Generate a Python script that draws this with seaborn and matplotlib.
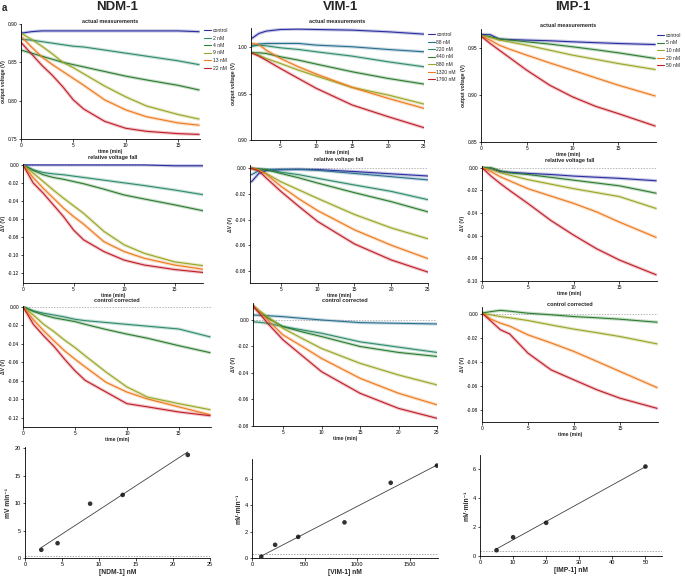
import numpy as np
import pandas as pd
import seaborn as sns
import matplotlib
matplotlib.use("Agg")
import matplotlib.pyplot as plt
from matplotlib.lines import Line2D
from matplotlib.ticker import FormatStrFormatter

# colores
c_ctrl = "#2b2f9e"
c_88 = "#2b6f8f"
c_teal = "#2f8c6c"
c_green = "#2d7d32"
c_olive = "#9ba626"
c_orange = "#ee7a1c"
c_red = "#c01f2a"

## Datos

# NDM-1
ndm_labels = ["control", "2 nM", "4 nM", "9 nM", "13 nM", "22 nM"]
ndm_colors = [c_ctrl, c_teal, c_green, c_olive, c_orange, c_red]
ndm_t_act = [0, 1, 2, 3, 4, 5, 6, 8, 10, 12, 15, 17]
ndm_act = [
    [0.888, 0.890, 0.891, 0.891, 0.891, 0.891, 0.891, 0.891, 0.891, 0.891, 0.891, 0.890],
    [0.880, 0.879, 0.877, 0.875, 0.873, 0.871, 0.870, 0.866, 0.862, 0.858, 0.852, 0.847],
    [0.866, 0.862, 0.858, 0.854, 0.850, 0.847, 0.844, 0.838, 0.832, 0.827, 0.820, 0.814],
    [0.888, 0.880, 0.871, 0.861, 0.850, 0.843, 0.835, 0.819, 0.805, 0.793, 0.782, 0.776],
    [0.884, 0.870, 0.857, 0.847, 0.838, 0.829, 0.820, 0.801, 0.788, 0.779, 0.771, 0.768],
    [0.876, 0.861, 0.846, 0.833, 0.818, 0.801, 0.789, 0.773, 0.764, 0.760, 0.757, 0.756],
]
ndm_t_rel = [0, 1, 2, 3, 4, 5, 6, 8, 10, 12, 15, 18]
ndm_rel = [
    [0, 0, 0, 0, 0, 0, 0, 0, 0, 0, -0.001, -0.001],
    [0, -0.0055, -0.0085, -0.010, -0.011, -0.0125, -0.014, -0.017, -0.020, -0.023, -0.028, -0.0335],
    [0, -0.006, -0.011, -0.014, -0.016, -0.0185, -0.021, -0.027, -0.0335, -0.038, -0.0445, -0.0515],
    [0, -0.009, -0.0185, -0.028, -0.037, -0.0455, -0.054, -0.074, -0.089, -0.0985, -0.108, -0.1125],
    [0, -0.014, -0.026, -0.037, -0.048, -0.0575, -0.066, -0.0855, -0.0965, -0.104, -0.1115, -0.1165],
    [0, -0.020, -0.0315, -0.0445, -0.0575, -0.0725, -0.0835, -0.0965, -0.106, -0.1115, -0.1165, -0.120],
]
ndm_cor = [
    [0, -0.0045, -0.007, -0.009, -0.011, -0.0135, -0.015, -0.017, -0.019, -0.021, -0.024, -0.0325],
    [0, -0.005, -0.009, -0.012, -0.014, -0.016, -0.019, -0.0245, -0.0295, -0.034, -0.042, -0.0495],
    [0, -0.009, -0.019, -0.027, -0.036, -0.044, -0.053, -0.0705, -0.0865, -0.0975, -0.1045, -0.111],
    [0, -0.014, -0.026, -0.037, -0.0475, -0.0565, -0.065, -0.0815, -0.092, -0.0995, -0.108, -0.1165],
    [0, -0.019, -0.0315, -0.043, -0.0565, -0.069, -0.0795, -0.092, -0.1045, -0.108, -0.1135, -0.1175],
]

# VIM-1
vim_labels = ["control", "88 nM", "220 nM", "440 nM", "880 nM", "1320 nM", "1760 nM"]
vim_colors = [c_ctrl, c_88, c_teal, c_green, c_olive, c_orange, c_red]
vim_t = [1, 2, 3, 5, 7.5, 10, 15, 20, 25]
vim_act = [
    [1.0097, 1.0151, 1.0176, 1.0194, 1.0198, 1.0194, 1.0187, 1.0169, 1.0144],
    [1.0018, 1.0036, 1.0043, 1.0043, 1.0043, 1.0025, 1.0007, 0.9978, 0.9953],
    [1.0014, 1.0025, 1.0018, 0.9996, 0.9978, 0.9953, 0.9906, 0.9845, 0.9791],
    [0.9942, 0.9942, 0.9935, 0.9899, 0.9863, 0.9820, 0.9737, 0.9665, 0.9604],
    [0.9942, 0.9917, 0.9881, 0.9827, 0.9755, 0.9691, 0.9568, 0.9486, 0.9388],
    [1.0043, 1.0032, 0.9971, 0.9881, 0.9791, 0.9712, 0.9568, 0.9450, 0.9342],
    [0.9942, 0.9906, 0.9863, 0.9773, 0.9665, 0.9558, 0.9378, 0.9252, 0.9133],
]
vim_rel = [
    [-0.0105, -0.004, -0.0018, -0.001, -0.0008, -0.001, -0.0025, -0.0043, -0.006],
    [-0.005, -0.0018, -0.001, -0.0008, -0.0008, -0.0015, -0.004, -0.0065, -0.009],
    [0, -0.0005, -0.001, -0.003, -0.005, -0.0078, -0.013, -0.018, -0.0245],
    [0, -0.0005, -0.001, -0.004, -0.0075, -0.0115, -0.019, -0.026, -0.034],
    [0, -0.002, -0.004, -0.0105, -0.017, -0.0235, -0.036, -0.0465, -0.055],
    [0, -0.001, -0.0045, -0.014, -0.024, -0.033, -0.048, -0.060, -0.0705],
    [0, -0.002, -0.0075, -0.018, -0.030, -0.0415, -0.059, -0.0715, -0.081],
]
vim_cor = [
    [0.0038, 0.0035, 0.0032, 0.0025, 0.0012, 0.0, -0.002, -0.0025, -0.003],
    [-0.0013, -0.0018, -0.0025, -0.005, -0.0075, -0.010, -0.0165, -0.0205, -0.0245],
    [0.011, 0.006, 0.0015, -0.005, -0.009, -0.0125, -0.020, -0.0245, -0.0275],
    [0.0113, 0.0065, 0.0025, -0.0063, -0.014, -0.0215, -0.0327, -0.0415, -0.049],
    [0.0113, 0.0055, 0.0, -0.0113, -0.020, -0.029, -0.044, -0.0553, -0.064],
    [0.0113, 0.0045, -0.0025, -0.015, -0.027, -0.039, -0.0553, -0.0667, -0.0742],
]

# IMP-1
imp_labels = ["control", "5 nM", "10 nM", "20 nM", "50 nM"]
imp_colors = [c_ctrl, c_green, c_olive, c_orange, c_red]
imp_t = [0, 1, 2, 3, 5, 7.5, 10, 12.5, 15, 19]
imp_act = [
    [0.9642, 0.9640, 0.9592, 0.9588, 0.9582, 0.9575, 0.9564, 0.9555, 0.9546, 0.9535],
    [0.9635, 0.9617, 0.9595, 0.9585, 0.9564, 0.9540, 0.9511, 0.9480, 0.9447, 0.9387],
    [0.9635, 0.9610, 0.9582, 0.9565, 0.9528, 0.9475, 0.9422, 0.9378, 0.9333, 0.9270],
    [0.9624, 0.9582, 0.9528, 0.9490, 0.9422, 0.9340, 0.9262, 0.9182, 0.9103, 0.8989],
    [0.9624, 0.9546, 0.9475, 0.9404, 0.9262, 0.9103, 0.8979, 0.8879, 0.8801, 0.8670],
]
imp_rel = [
    [0, -0.001, -0.0035, -0.004, -0.005, -0.006, -0.0074, -0.0084, -0.0094, -0.0115],
    [0, 0, -0.0027, -0.0045, -0.006, -0.0085, -0.011, -0.0135, -0.016, -0.0225],
    [0, -0.0015, -0.0045, -0.0065, -0.0105, -0.0145, -0.0185, -0.022, -0.0255, -0.036],
    [0, -0.0035, -0.008, -0.0115, -0.0185, -0.025, -0.0315, -0.039, -0.048, -0.0615],
    [0, -0.0075, -0.014, -0.020, -0.0315, -0.0465, -0.0595, -0.0715, -0.0815, -0.0945],
]
imp_cor = [
    [0.001, 0.0022, 0.0032, 0.0025, 0.0008, -0.0005, -0.002, -0.003, -0.0042, -0.0067],
    [0.0008, -0.0006, -0.002, -0.003, -0.0053, -0.009, -0.0125, -0.0155, -0.0187, -0.0248],
    [0.001, -0.0042, -0.0075, -0.010, -0.0173, -0.024, -0.0312, -0.0395, -0.0479, -0.0613],
    [0.001, -0.006, -0.013, -0.0165, -0.0326, -0.0465, -0.0549, -0.0632, -0.0702, -0.0786],
]

# Velocidades vs concentracion
ndm_conc = [2.2, 4.4, 8.8, 13.2, 22.0]
ndm_rate = [1.5, 2.7, 9.9, 11.5, 18.8]
vim_conc = [88, 220, 440, 880, 1320, 1760]
vim_rate = [0.1, 1.0, 1.6, 2.7, 5.7, 7.0]
imp_conc = [5, 10, 20, 50]
imp_rate = [0.4, 1.3, 2.3, 6.2]
rate_baseline = [0.3, 0.33, 0.32]

## Estilo
sns.set_theme(style="ticks")
plt.rcParams["font.family"] = ["Liberation Sans", "DejaVu Sans"]
plt.rcParams["axes.unicode_minus"] = False

W, H = 685, 576
fig = plt.figure(figsize=(W / 100, H / 100), dpi=100)


def px_axes(l, t, r, b):
    return fig.add_axes([l / W, 1 - b / H, (r - l) / W, (b - t) / H])


def style_ax(ax, size=3.5):
    sns.despine(ax=ax)
    for s in ["left", "bottom"]:
        ax.spines[s].set_linewidth(0.6)
        ax.spines[s].set_color("black")
    ax.tick_params(labelsize=size, length=1.8, width=0.5, pad=1, colors="black")


def curve_panel(ax, t, labels, colors, values, title, ylabel, pad, legend=None, zero=True):
    df = pd.DataFrame({
        "t": np.tile(t, len(labels)),
        "v": np.concatenate([np.array(v, dtype=float) for v in values]),
        "lab": np.repeat(labels, len(t)),
    })
    pal = dict(zip(labels, colors))
    if zero:
        ax.axhline(0, color="0.6", lw=0.5, ls=(0, (2, 2)), zorder=0)
    sns.lineplot(data=df, x="t", y="v", hue="lab", palette=pal, lw=2.4, alpha=0.25,
                 legend=False, errorbar=None, ax=ax)
    sns.lineplot(data=df, x="t", y="v", hue="lab", palette=pal, lw=0.8,
                 legend=False, errorbar=None, ax=ax)
    ax.set_title(title, fontsize=4.0, fontweight="bold", pad=pad)
    ax.set_xlabel("time (min)", fontsize=3.6, fontweight="bold", labelpad=1)
    ax.set_ylabel(ylabel, fontsize=3.6, fontweight="bold", labelpad=1)
    ax.yaxis.set_major_formatter(FormatStrFormatter("%.2f"))
    style_ax(ax)
    if legend is not None:
        handles = [Line2D([], [], color=c, lw=0.8) for c in colors]
        ax.legend(handles, labels, loc="upper left", bbox_to_anchor=(legend, 1.0),
                  frameon=False, fontsize=3.6, handlelength=1.3, handletextpad=0.4,
                  labelspacing=0.5, borderaxespad=0.5, borderpad=0.3)


# Fila 1: medidas reales
ax = px_axes(21, 24, 200, 139)
curve_panel(ax, ndm_t_act, ndm_labels, ndm_colors, ndm_act, "actual measurements",
            "output voltage (V)", 1, legend=1.0, zero=False)
ax.set_xlim(0, 17.1); ax.set_ylim(0.75, 0.90)
ax.set_xticks([0, 5, 10, 15]); ax.set_yticks([0.75, 0.80, 0.85, 0.90])

ax = px_axes(251, 28, 424, 140)
curve_panel(ax, vim_t, vim_labels, vim_colors, vim_act, "actual measurements",
            "output voltage (V)", 3.6, legend=1.0, zero=False)
ax.set_xlim(0.9, 25); ax.set_ylim(0.90, 1.021)
ax.set_xticks([5, 10, 15, 20, 25]); ax.set_yticks([0.90, 0.95, 1.00])

ax = px_axes(481, 29, 656, 142)
curve_panel(ax, imp_t, imp_labels, imp_colors, imp_act, "actual measurements",
            "output voltage (V)", 1.5, legend=0.985, zero=False)
ax.set_xlim(0, 19.1); ax.set_ylim(0.85, 0.97)
ax.set_xticks([0, 5, 10, 15]); ax.set_yticks([0.85, 0.90, 0.95])

# Fila 2: caida relativa
ax = px_axes(23, 164, 203, 283)
curve_panel(ax, ndm_t_rel, ndm_labels, ndm_colors, ndm_rel, "relative voltage fall", "ΔV (V)", 3.4)
ax.set_xlim(0, 17.8); ax.set_ylim(-0.1315, 0.001)
ax.set_xticks([0, 5, 10, 15]); ax.set_yticks(np.arange(-0.12, 0.001, 0.02))

ax = px_axes(250, 165, 428, 283)
curve_panel(ax, vim_t, vim_labels, vim_colors, vim_rel, "relative voltage fall", "ΔV (V)", 2.7)
ax.set_xlim(0.8, 25); ax.set_ylim(-0.0895, 0.0026)
ax.set_xticks([5, 10, 15, 20, 25]); ax.set_yticks(np.arange(-0.08, 0.001, 0.02))

ax = px_axes(482, 166, 657, 281)
curve_panel(ax, imp_t, imp_labels, imp_colors, imp_rel, "relative voltage fall", "ΔV (V)", 2.9)
ax.set_xlim(0, 19.1); ax.set_ylim(-0.10, 0.0015)
ax.set_xticks([0, 5, 10, 15]); ax.set_yticks(np.arange(-0.10, 0.001, 0.02))

# Fila 3: corregido por control
ax = px_axes(23, 306, 211, 427)
curve_panel(ax, ndm_t_rel, ndm_labels[1:], ndm_colors[1:], ndm_cor, "control corrected", "ΔV (V)", 2.7)
ax.set_xlim(0, 18.1); ax.set_ylim(-0.1297, 0.0008)
ax.set_xticks([0, 5, 10, 15]); ax.set_yticks(np.arange(-0.12, 0.001, 0.02))

ax = px_axes(253, 303, 437, 426)
curve_panel(ax, vim_t, vim_labels[1:], vim_colors[1:], vim_cor, "control corrected", "ΔV (V)", 0.5)
ax.set_xlim(1.1, 25); ax.set_ylim(-0.08, 0.0128)
ax.set_xticks([5, 10, 15, 20, 25]); ax.set_yticks(np.arange(-0.08, 0.001, 0.02))

ax = px_axes(482, 307, 658, 422)
curve_panel(ax, imp_t, imp_labels[1:], imp_colors[1:], imp_cor, "control corrected", "ΔV (V)", 1)
ax.set_xlim(0, 19.1); ax.set_ylim(-0.09, 0.006)
ax.set_xticks([0, 5, 10, 15]); ax.set_yticks(np.arange(-0.08, 0.001, 0.02))

# Fila 4: velocidad vs concentracion
rate_axes = [
    (px_axes(25, 447, 210, 558), ndm_conc, ndm_rate, "[NDM-1] nM", "mV min⁻¹",
     (0, 25), (0, 20.24), [0, 5, 10, 15, 20, 25], [0, 5, 10, 15, 20]),
    (px_axes(252, 459, 438, 558), vim_conc, vim_rate, "[VIM-1] nM", "mV·min⁻¹",
     (0, 1770), (0, 7.5), [0, 500, 1000, 1500], [0, 2, 4, 6]),
    (px_axes(480, 455, 662, 556), imp_conc, imp_rate, "[IMP-1] nM", "mV·min⁻¹",
     (0, 55), (0, 7.0), [0, 10, 20, 30, 40, 50], [0, 2, 4, 6]),
]
for (ax, cx, ry, xl, yl, xlim, ylim, xt, yt), base in zip(rate_axes, rate_baseline):
    ax.axhline(base, color="0.5", lw=0.5, ls=(0, (2, 2)), zorder=0)
    sns.regplot(x=cx, y=ry, ci=None, ax=ax,
                scatter_kws=dict(s=11, color="black", edgecolor="none", zorder=3),
                line_kws=dict(color="0.25", lw=0.6))
    ax.set_xlim(*xlim); ax.set_ylim(*ylim)
    ax.set_xticks(xt); ax.set_yticks(yt)
    ax.set_xlabel(xl, fontsize=4.8, fontweight="bold", labelpad=1.5)
    ax.set_ylabel(yl, fontsize=4.8, fontweight="bold", labelpad=2)
    style_ax(ax, size=4.0)

# Titulos
for x, name in [(117, "NDM-1"), (341, "VIM-1"), (573, "IMP-1")]:
    fig.text(x / W, 1 - 7 / H, name, fontsize=9.5, fontweight="bold", ha="center", va="center")
fig.text(0.003, 0.995, "a", fontsize=7, fontweight="bold", ha="left", va="top")

fig.savefig("out.png", dpi=100)
